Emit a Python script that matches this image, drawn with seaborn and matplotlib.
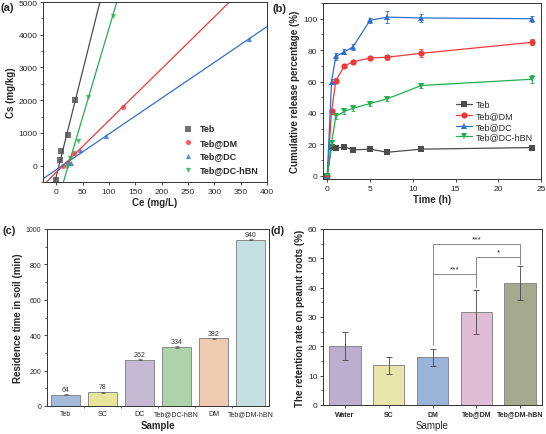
import matplotlib.pyplot as plt
from matplotlib.ticker import AutoMinorLocator
import numpy as np
import pandas as pd
import seaborn as sns

sns.set_style("ticks")
plt.rcParams["font.family"] = ["Liberation Sans", "DejaVu Sans"]
plt.rcParams["font.size"] = 6

# (a) adsorption isotherm points
teb_ce = [0, 7, 10, 22, 36]
teb_cs = [-450, 180, 460, 930, 2010]
dm_ce = [12, 22, 34, 127]
dm_cs = [0, 80, 380, 1800]
dc_ce = [29, 45, 94, 365]
dc_cs = [80, 480, 900, 3860]
hbn_ce = [20, 27, 41, 60, 107]
hbn_cs = [-40, 230, 750, 2110, 4580]

# (b) cumulative release
time_h = [0, 0.5, 1, 2, 3, 5, 7, 11, 24]
rel_teb = [0, 18.5, 17.5, 18.5, 16.5, 17, 15, 17, 18]
rel_dm = [0, 41, 60.5, 70, 72.5, 75, 75.5, 78, 85]
rel_dc = [0, 60, 76, 79, 82, 99, 101, 100.5, 100]
rel_hbn = [0, 21, 38, 41, 43, 46, 49, 57.5, 61.5]
err_teb = [0, 1, 1, 1, 1, 1, 1, 1, 1]
err_dm = [0, 1.5, 1.5, 1.5, 1.5, 1.5, 1.5, 2.5, 2]
err_dc = [0, 1.5, 2, 1.5, 2, 1.5, 4, 2.5, 2]
err_hbn = [0, 1.5, 1.5, 1.5, 1.5, 1.5, 1.5, 1.5, 2.5]

# (c) residence time in soil
c_samples = ["Teb", "SC", "DC", "Teb@DC-hBN", "DM", "Teb@DM-hBN"]
c_values = [64, 78, 262, 334, 382, 940]
c_err = [2, 2, 4, 4, 4, 3]
c_colors = ["#9bb8e3", "#f4ef8f", "#c4b4d9", "#a9d9a2", "#f8caa6", "#c0e4e8"]

# (d) retention on peanut roots
d_samples = ["Water", "SC", "DM", "Teb@DM", "Teb@DM-hBN"]
d_values = [20.2, 13.5, 16.2, 31.8, 41.5]
d_err = [4.7, 2.8, 2.9, 7.5, 5.8]
d_colors = ["#b9a9d6", "#f3ef9f", "#8fb2e2", "#e6b6d8", "#a9ad89"]

fig = plt.figure(figsize=(5.46, 4.35), dpi=100)
W, H = 546, 435


def axes_px(l, t, r, b):
    return fig.add_axes([l / W, 1 - b / H, (r - l) / W, (b - t) / H])


lab_kw = dict(fontsize=7, fontweight="bold")

# ---------- (a)
ax = axes_px(43, 3, 267, 183)
ax.set_xlim(-25, 400)
ax.set_ylim(-500, 5000)
series_a = [("Teb", teb_ce, teb_cs, "#4d4d4d", "s"),
            ("Teb@DM", dm_ce, dm_cs, "#f03a3a", "o"),
            ("Teb@DC", dc_ce, dc_cs, "#2f6fd0", "^"),
            ("Teb@DC-hBN", hbn_ce, hbn_cs, "#22b04e", "v")]
for name, xs, ys, col, mk in series_a:
    sns.regplot(x=xs, y=ys, ax=ax, ci=None, truncate=False, color=col,
                marker=mk, scatter_kws=dict(s=14, linewidths=0),
                line_kws=dict(lw=0.9), label=name)
ax.set_xlim(-25, 400)
ax.set_ylim(-500, 5000)
ax.set_xticks(range(0, 401, 50))
ax.set_yticks(range(0, 5001, 1000))
ax.set_xlabel("Ce (mg/L)", **lab_kw)
ax.set_ylabel("Cs (mg/kg)", **lab_kw)
h, l = ax.get_legend_handles_labels()
ax.legend([x for x in h if hasattr(x, "get_offsets")], [n for n, *_ in series_a],
          loc="lower right", frameon=False, prop=dict(weight="bold", size=6.5),
          handletextpad=0.3, markerscale=1.0, bbox_to_anchor=(1.0, 0.0))
ax.text(-0.19, 1.0, "(a)", transform=ax.transAxes, fontsize=8, fontweight="bold", va="top")

# ---------- (b)
ax = axes_px(323, 4, 541, 180)
rel = pd.DataFrame({"time": time_h * 4,
                    "value": rel_teb + rel_dm + rel_dc + rel_hbn,
                    "err": err_teb + err_dm + err_dc + err_hbn,
                    "sample": ["Teb"] * 9 + ["Teb@DM"] * 9 + ["Teb@DC"] * 9 + ["Teb@DC-hBN"] * 9})
pal_b = {"Teb": "#4d4d4d", "Teb@DM": "#f03a3a", "Teb@DC": "#2f6fd0", "Teb@DC-hBN": "#22b04e"}
marks_b = {"Teb": "s", "Teb@DM": "o", "Teb@DC": "^", "Teb@DC-hBN": "v"}
sns.lineplot(data=rel, x="time", y="value", hue="sample", style="sample",
             palette=pal_b, markers=marks_b, dashes=False, lw=0.9, markersize=4.5,
             markeredgewidth=0, ax=ax)
for name, g in rel.groupby("sample"):
    ax.errorbar(g["time"], g["value"], yerr=g["err"], fmt="none", ecolor=pal_b[name],
                elinewidth=0.6, capsize=1.5, capthick=0.6)
ax.set_xlim(-0.5, 25)
ax.set_ylim(-2, 110)
ax.set_xticks(range(0, 26, 5))
ax.set_yticks(range(0, 101, 20))
ax.set_xlabel("Time (h)", **lab_kw)
ax.set_ylabel("Cumulative release percentage (%)", **lab_kw)
ax.legend(loc="center right", bbox_to_anchor=(1.0, 0.33), frameon=False, fontsize=6.5,
          handlelength=1.8, handletextpad=0.4, labelspacing=0.2)
ax.text(-0.23, 1.0, "(b)", transform=ax.transAxes, fontsize=8, fontweight="bold", va="top")

# ---------- (c)
ax = axes_px(47, 230, 269, 407)
dfc = pd.DataFrame({"sample": c_samples, "value": c_values})
sns.barplot(data=dfc, x="sample", y="value", hue="sample", palette=c_colors,
            legend=False, width=0.8, edgecolor="#8a8a8a", linewidth=0.7, ax=ax)
ax.errorbar(range(len(c_values)), c_values, yerr=c_err, fmt="none", ecolor="#555555",
            elinewidth=0.5, capsize=1.5, capthick=0.5)
for i, v in enumerate(c_values):
    ax.text(i, v + 10, str(v), ha="center", va="bottom", fontsize=5, color="#333333")
ax.set_ylim(0, 1000)
ax.set_xlim(-0.5, 5.5)
ax.set_yticks(range(0, 1001, 200))
ax.set_xticks(np.arange(0.5, 5.5, 1), minor=True)
ax.tick_params(labelsize=5)
ax.set_xlabel("Sample", **lab_kw)
ax.set_ylabel("Residence time in soil (min)", **lab_kw)
ax.text(-0.2, 1.02, "(c)", transform=ax.transAxes, fontsize=8, fontweight="bold", va="top")

# ---------- (d)
ax = axes_px(323, 230, 542, 406)
dfd = pd.DataFrame({"sample": d_samples, "value": d_values})
sns.barplot(data=dfd, x="sample", y="value", hue="sample", palette=d_colors,
            legend=False, width=0.72, edgecolor="#8a8a8a", linewidth=0.7, ax=ax)
ax.errorbar(range(len(d_values)), d_values, yerr=d_err, fmt="none", ecolor="#444444",
            elinewidth=0.6, capsize=2, capthick=0.6)


def bracket(i, j, y, yi, yj, txt):
    ax.plot([i, i, j, j], [yi, y, y, yj], color="#888888", lw=0.7)
    ax.text((i + j) / 2, y + 0.6, txt, ha="center", va="bottom", fontsize=6)


bracket(2, 3, 44.5, 20.5, 40.3, "***")
bracket(3, 4, 50.5, 41.0, 48.0, "*")
bracket(2, 4, 55.0, 44.5, 48.0, "***")
ax.set_ylim(0, 60)
ax.set_xlim(-0.5, 4.5)
ax.set_yticks(range(0, 61, 10))
ax.tick_params(axis="x", labelsize=5)
for t in ax.get_xticklabels():
    t.set_fontweight("bold")
ax.set_xlabel("Sample", fontsize=7)
ax.set_ylabel("The retention rate on peanut roots (%)", **lab_kw)
ax.text(-0.24, 1.02, "(d)", transform=ax.transAxes, fontsize=8, fontweight="bold", va="top")

for a in fig.axes:
    for s in a.spines.values():
        s.set_linewidth(0.7)
        s.set_color("#333333")
    a.yaxis.set_minor_locator(AutoMinorLocator(2))
    a.tick_params(width=0.6, length=2.5, direction="out", pad=1.5)
    a.tick_params(which="minor", width=0.5, length=1.5, direction="out")
    a.xaxis.labelpad = 2
    a.yaxis.labelpad = 2
fig.axes[2].tick_params(axis="x", which="major", length=0, pad=3)

fig.savefig("out.png", dpi=100)
